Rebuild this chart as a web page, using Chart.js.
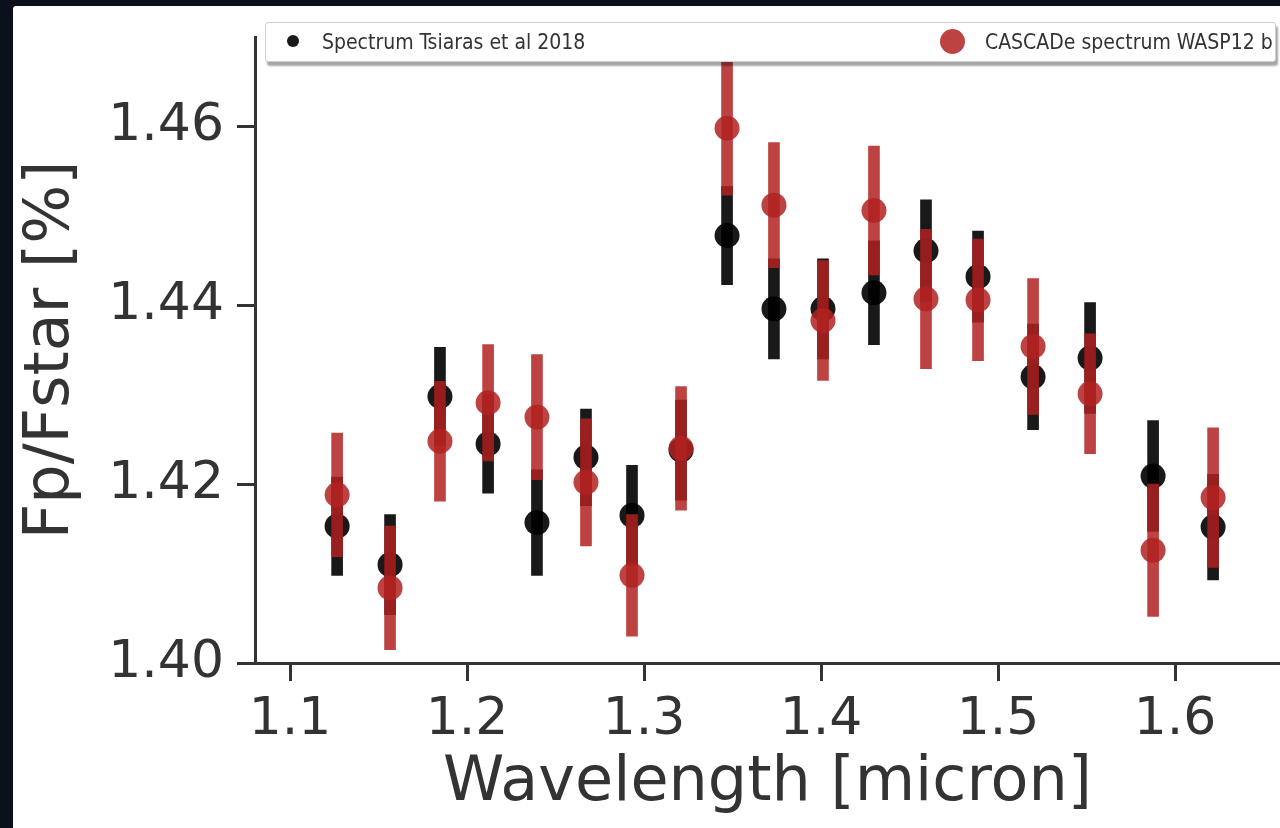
<!DOCTYPE html>
<html>
<head>
<meta charset="utf-8">
<script src="https://cdn.jsdelivr.net/npm/chart.js@4.4.0/dist/chart.umd.min.js"></script>
<style>
  html, body { margin: 0; padding: 0; }
  body { width: 1280px; height: 828px; background: #0b111a; position: relative; overflow: hidden; }
  #card { position: absolute; left: 13px; top: 6px; width: 1267px; height: 822px; background: #fff; border-top-left-radius: 3px; }
  #legend {
    position: absolute; left: 265px; top: 22px; width: 1009px; height: 38px;
    background: #fff; border: 1px solid #cfcfcf; border-radius: 3px;
    box-shadow: 2px 4px 2px rgba(0,0,0,0.35);
    font-family: "DejaVu Sans Condensed", "DejaVu Sans", sans-serif; font-stretch: condensed;
    font-size: 21px; color: #333;
  }
  #legend .item { position: absolute; top: 0; height: 38px; line-height: 38px; white-space: nowrap; }
  #legend .dot { position: absolute; border-radius: 50%; }
</style>
</head>
<body>
<div id="card"><canvas id="myChart" width="1267" height="822"></canvas></div>
<div id="legend"></div>
<script>
// wavelength bins [micron]
const wavelength = [1.1266, 1.1565, 1.1847, 1.2119, 1.2395, 1.2672, 1.2932, 1.3209, 1.3469,
                    1.3734, 1.4011, 1.4299, 1.4593, 1.4887, 1.5198, 1.5520, 1.5876, 1.6215];

// Tsiaras et al 2018
const tsiarasDepth = [1.4153, 1.4110, 1.4298, 1.4245, 1.4157, 1.4230, 1.4165, 1.4238, 1.4478,
                      1.4396, 1.4396, 1.4414, 1.4461, 1.4432, 1.4320, 1.4341, 1.4209, 1.4152];
const tsiarasError = [0.0055, 0.0056, 0.0055, 0.0055, 0.0059, 0.0054, 0.0056, 0.0056, 0.0055,
                      0.0056, 0.0056, 0.0058, 0.0057, 0.0051, 0.0059, 0.0062, 0.0062, 0.0059];

// CASCADe
const cascadeDepth = [1.4188, 1.4084, 1.4248, 1.4291, 1.4275, 1.4202, 1.4098, 1.4240, 1.4598,
                      1.4512, 1.4383, 1.4506, 1.4407, 1.4406, 1.4354, 1.4301, 1.4126, 1.4185];
const cascadeError = [0.0069, 0.0069, 0.0067, 0.0065, 0.0070, 0.0071, 0.0068, 0.0069, 0.0075,
                      0.0070, 0.0067, 0.0072, 0.0078, 0.0068, 0.0076, 0.0067, 0.0074, 0.0078];

const xTicks = [1.1, 1.2, 1.3, 1.4, 1.5, 1.6];
const yTicks = [1.40, 1.42, 1.44, 1.46];

const black = 'rgba(0,0,0,0.9)';
const red = 'rgba(178,34,34,0.85)';

function points(depth) {
    return wavelength.map((w, i) => ({x: w, y: depth[i]}));
}
function errBars(depth, err) {
    return wavelength.map((w, i) => ({x: w, y: [depth[i] - err[i], depth[i] + err[i]]}));
}

Chart.defaults.font.family = 'DejaVu Sans';
Chart.defaults.color = '#333';

const ctx = document.getElementById('myChart');
const myChart = new Chart(ctx, {
    type: 'bar',
    data: {
        datasets: [
            {type: 'bar', label: 'err1', data: errBars(tsiarasDepth, tsiarasError), backgroundColor: black,
             barThickness: 11, grouped: false, borderWidth: 0, order: 3},
            {type: 'scatter', label: 'Spectrum Tsiaras et al 2018', data: points(tsiarasDepth), backgroundColor: black,
             pointRadius: 12.5, borderWidth: 0, order: 2, legendRadius: 6},
            {type: 'bar', label: 'err2', data: errBars(cascadeDepth, cascadeError), backgroundColor: red,
             barThickness: 11, grouped: false, borderWidth: 0, order: 1},
            {type: 'scatter', label: 'CASCADe spectrum WASP12 b', data: points(cascadeDepth), backgroundColor: red,
             pointRadius: 12.5, borderWidth: 0, order: 0, legendRadius: 12.5}
        ]
    },
    options: {
        responsive: false,
        animation: false,
        layout: {autoPadding: false, padding: {top: 31, right: 0, bottom: 0, left: 0}},
        plugins: {legend: {display: false}, tooltip: {enabled: false}},
        scales: {
            x: {
                type: 'linear', offset: false, min: 1.0802, max: 1.6593,
                afterBuildTicks: s => { s.ticks = xTicks.map(v => ({value: v})); },
                afterFit: s => { s.height = 165; },
                border: {display: true, color: '#333', width: 3},
                grid: {display: true, offset: false, drawOnChartArea: false, drawTicks: true, tickLength: 18, tickWidth: 3, tickColor: '#333'},
                ticks: {font: {size: 52}, padding: 8, maxRotation: 0, autoSkip: false, callback: v => v.toFixed(1)},
                title: {display: true, text: 'Wavelength [micron]', font: {size: 62}, padding: {top: 0, bottom: 7}}
            },
            y: {
                type: 'linear', min: 1.40, max: 1.47,
                afterBuildTicks: s => { s.ticks = yTicks.map(v => ({value: v})); },
                afterFit: s => { s.width = 242; s.paddingTop = 0; s.paddingBottom = 0; },
                border: {display: true, color: '#333', width: 3},
                grid: {display: true, drawOnChartArea: false, drawTicks: true, tickLength: 18, tickWidth: 3, tickColor: '#333'},
                ticks: {font: {size: 52}, padding: 13, autoSkip: false, callback: v => v.toFixed(2)},
                title: {display: true, text: 'Fp/Fstar [%]', font: {size: 62}, padding: {top: 2, bottom: 0}}
            }
        }
    }
});

// legend laid out like the matplotlib "expand" legend: one entry at each end
const legendPos = [{dot: 27, text: 56}, {dot: 686, text: 719}];
const legend = document.getElementById('legend');
myChart.data.datasets.filter(d => d.type === 'scatter').forEach((d, i) => {
    const r = d.legendRadius;
    const dot = document.createElement('div');
    dot.className = 'dot';
    dot.style.cssText = `left:${legendPos[i].dot - r}px;top:${18 - r}px;width:${2 * r}px;height:${2 * r}px;background:${d.backgroundColor}`;
    legend.appendChild(dot);
    const item = document.createElement('div');
    item.className = 'item';
    item.style.left = legendPos[i].text + 'px';
    item.textContent = d.label;
    legend.appendChild(item);
});
</script>
</body>
</html>
